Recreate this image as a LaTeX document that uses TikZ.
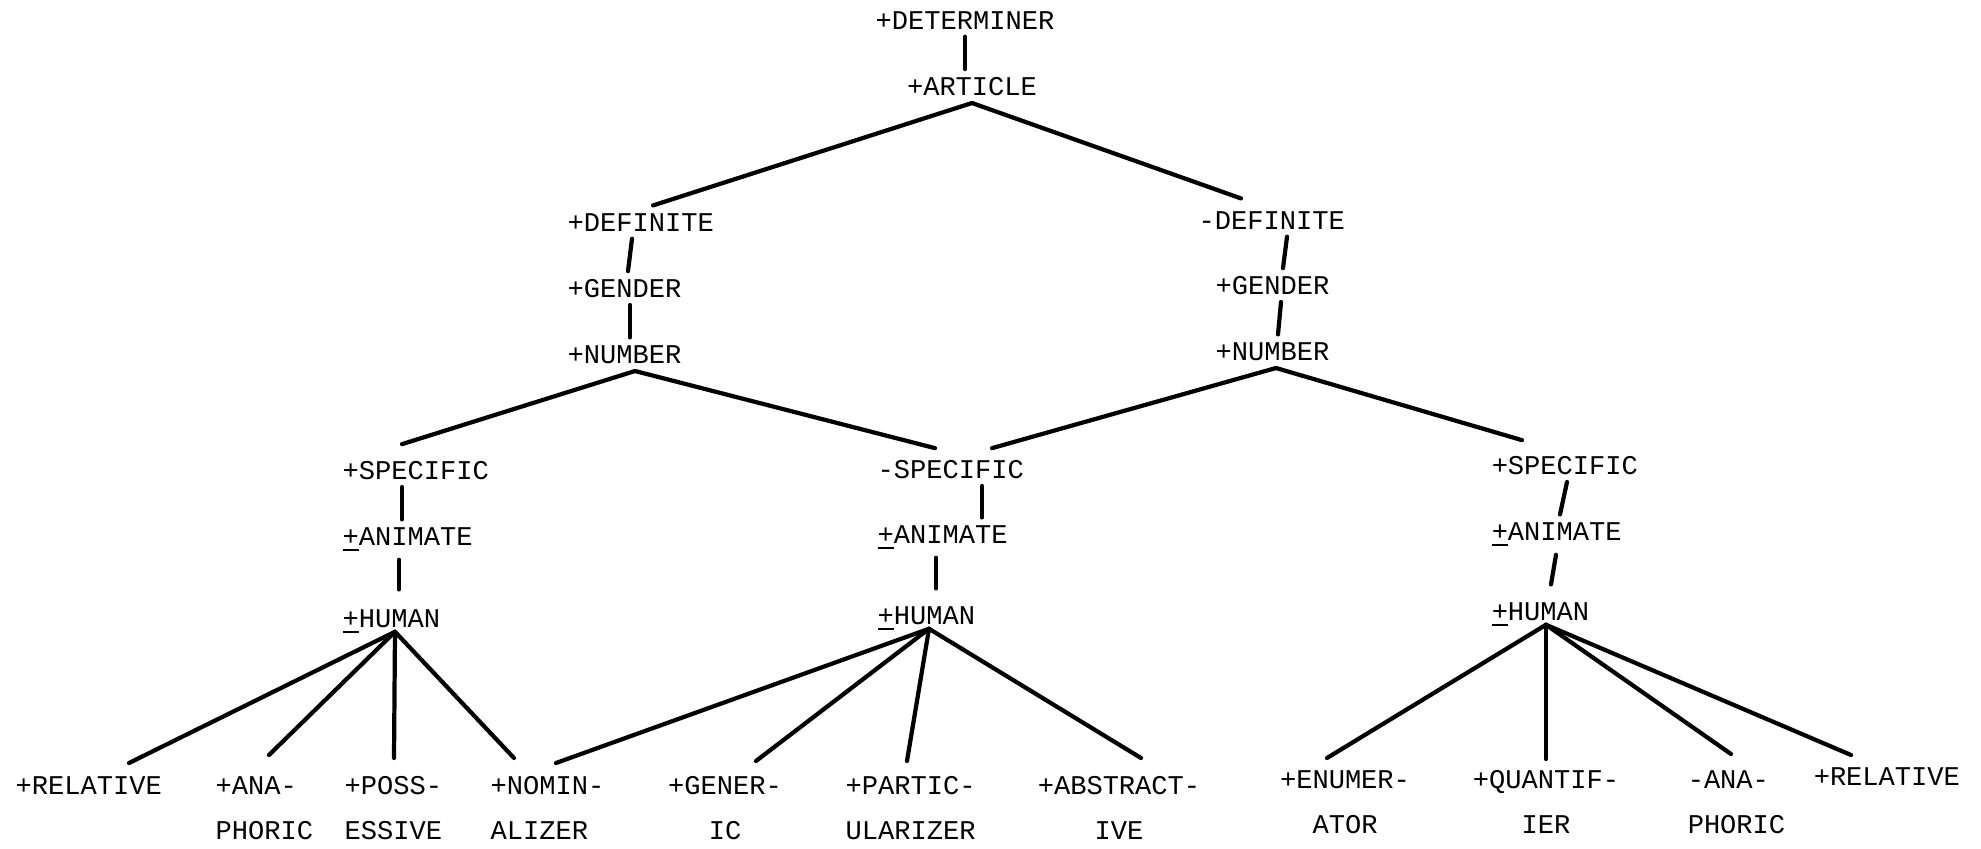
\documentclass[tikz,border=0pt]{standalone}
\usepackage{fontspec}
\setmonofont{Liberation Mono}
\usetikzlibrary{calc}

% underlined plus for the +/- features
\newcommand{\ulplus}{\underline{+}}

\tikzset{
  feat/.style={font=\ttfamily\fontsize{7.7}{12.8}\selectfont, inner sep=2pt, anchor=base west},
  leaf/.style={feat, anchor=north, align=center},
  leafl/.style={feat, anchor=north west, align=left},
  link/.style={line width=1.2pt, line cap=round},
}

\begin{document}
\begin{tikzpicture}[x=0.01cm, y=-0.01cm]
  \useasboundingbox (0,0) rectangle (1981,848);

  % root
  \node[feat, anchor=base] (det) at (965,29) {+DETERMINER};
  \node[feat, anchor=base] (art) at (972,95) {+ARTICLE};
  \draw[link] (det.south) -- (det.south |- art.north);

  % definite branch
  \node[feat] (ld) at (560,231) {+DEFINITE};
  \node[feat] (lg) at (560,297) {+GENDER};
  \node[feat] (ln) at (560,363) {+NUMBER};
  \draw[link] ($(ld.south west)+(72,0)$) -- ($(lg.north west)+(68,0)$);
  \draw[link] ($(lg.south west)+(70,0)$) -- ($(ln.north west)+(70,0)$);

  % indefinite branch
  \node[feat] (bd) at (1191,229) {-DEFINITE};
  \node[feat] (bg) at (1208,294) {+GENDER};
  \node[feat] (bn) at (1208,360) {+NUMBER};
  \draw[link] ($(bd.south west)+(96,0)$) -- ($(bg.north west)+(75,0)$);
  \draw[link] ($(bg.south west)+(73,0)$) -- ($(bn.north west)+(70,0)$);

  \draw[link] (art.south) -- ($(ld.north west)+(93,0)$);
  \draw[link] (art.south) -- ($(bd.north west)+(50,-5)$);

  % specific / non-specific stacks
  \node[feat] (c1) at (335,479) {+SPECIFIC};
  \node[feat] (c2) at (335,545) {\ulplus ANIMATE};
  \node[feat] (c3) at (335,627) {\ulplus HUMAN};
  \draw[link] ($(c1.south west)+(67,0)$) -- ($(c2.north west)+(67,0)$);
  \draw[link] ($(c2.south west)+(64,0)$) -- ($(c3.north west)+(64,-12)$);

  \node[feat] (d1) at (870,478) {-SPECIFIC};
  \node[feat] (d2) at (870,543) {\ulplus ANIMATE};
  \node[feat] (d3) at (870,624) {\ulplus HUMAN};
  \draw[link] ($(d1.south west)+(112,0)$) -- ($(d2.north west)+(112,0)$);
  \draw[link] ($(d2.south west)+(66,0)$) -- ($(d3.north west)+(66,-10)$);

  \node[feat] (e1) at (1484,474) {+SPECIFIC};
  \node[feat] (e2) at (1484,540) {\ulplus ANIMATE};
  \node[feat] (e3) at (1484,620) {\ulplus HUMAN};
  \draw[link] ($(e1.south west)+(83,0)$) -- ($(e2.north west)+(76,0)$);
  \draw[link] ($(e2.south west)+(72,0)$) -- ($(e3.north west)+(67,-10)$);

  \coordinate (lnx) at ($(ln.south west)+(75,0)$);
  \coordinate (bnx) at ($(bn.south west)+(68,0)$);
  \draw[link] (lnx) -- ($(c1.north west)+(67,-9)$);
  \draw[link] (lnx) -- ($(d1.north west)+(65,-4)$);
  \draw[link] (bnx) -- ($(d1.north west)+(122,-4)$);
  \draw[link] (bnx) -- ($(e1.north west)+(38,-8)$);

  % leaves
  \node[leafl] (l1) at (8,769) {+RELATIVE};
  \node[leafl] (l2) at (208,769) {+ANA-\\PHORIC};
  \node[leafl] (l3) at (337,769) {+POSS-\\ESSIVE};
  \node[leafl] (l4) at (483,769) {+NOMIN-\\ALIZER};
  \node[leaf] (l5) at (725,769) {+GENER-\\IC};
  \node[leafl] (l6) at (838,769) {+PARTIC-\\ULARIZER};
  \node[leaf] (l7) at (1119,769) {+ABSTRACT-\\IVE};
  \node[leaf] (l8) at (1345,763) {+ENUMER-\\ATOR};
  \node[leaf] (l9) at (1546,763) {+QUANTIF-\\IER};
  \node[leafl] (l10) at (1680,763) {-ANA-\\PHORIC};
  \node[leafl] (l11) at (1806,760) {+RELATIVE};

  \coordinate (c3x) at ($(c3.south west)+(60,-10)$);
  \coordinate (d3x) at ($(d3.south west)+(59,-10)$);
  \coordinate (e3x) at ($(e3.south west)+(62,-10)$);

  \draw[link] (c3x) -- ($(l1.north west)+(121,-6)$);
  \draw[link] (c3x) -- ($(l2.north west)+(61,-14)$);
  \draw[link] (c3x) -- ($(l3.north west)+(57,-11)$);
  \draw[link] (c3x) -- ($(l4.north west)+(31,-11)$);

  \draw[link] (d3x) -- ($(l4.north west)+(73,-6)$);
  \draw[link] (d3x) -- ($(l5.north)+(31,-8)$);
  \draw[link] (d3x) -- ($(l6.north west)+(69,-8)$);
  \draw[link] (d3x) -- ($(l7.north)+(22,-11)$);

  \draw[link] (e3x) -- ($(l8.north)+(-18,-5)$);
  \draw[link] (e3x) -- ($(l9.north)+(0,-4)$);
  \draw[link] (e3x) -- ($(l10.north west)+(51,-9)$);
  \draw[link] (e3x) -- ($(l11.north west)+(45,-5)$);

\end{tikzpicture}
\end{document}
